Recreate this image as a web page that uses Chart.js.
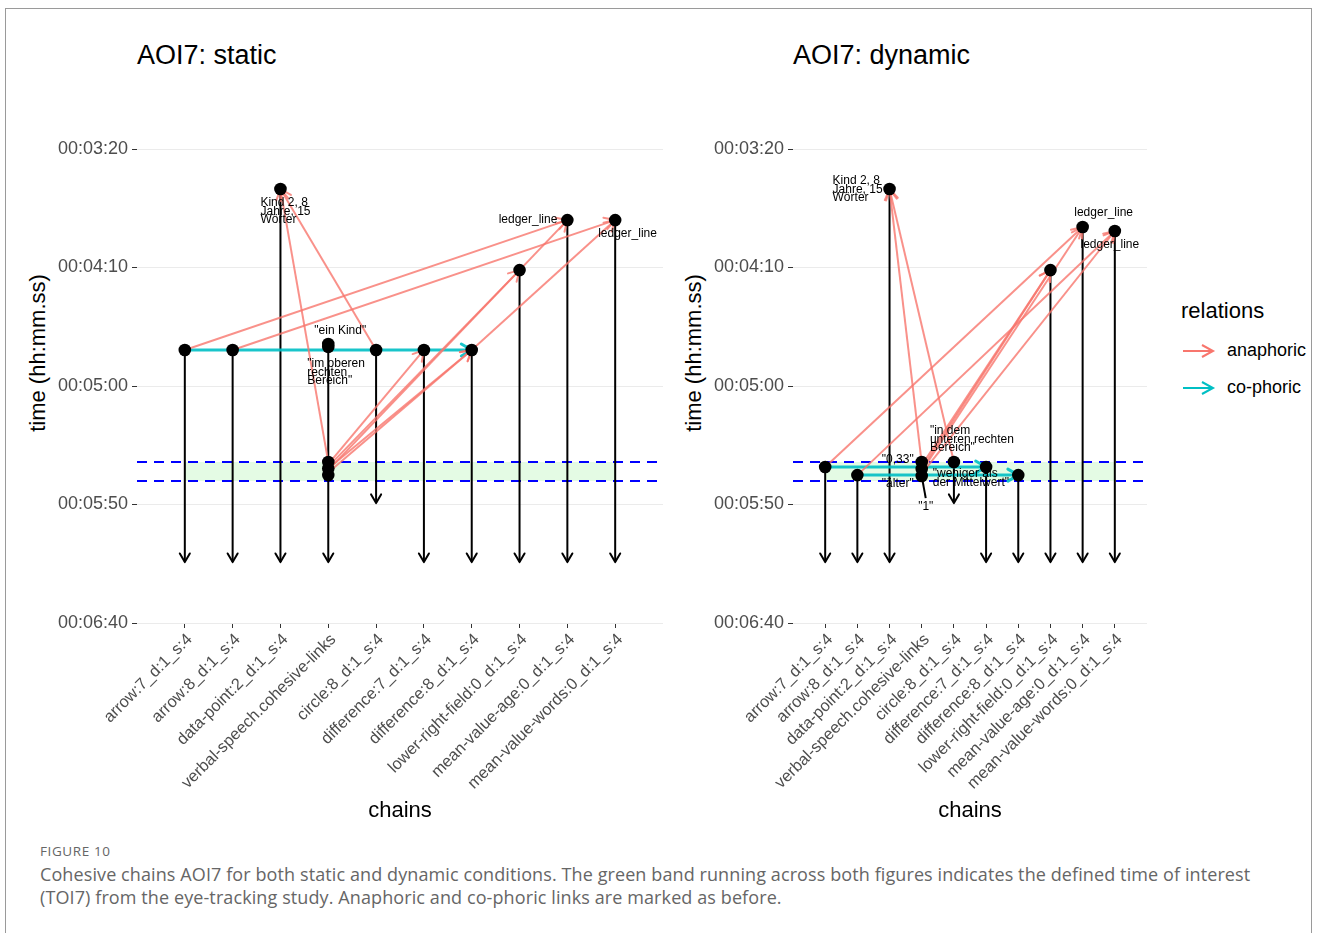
<!DOCTYPE html>
<html>
<head>
<meta charset="utf-8">
<script src="https://cdn.jsdelivr.net/npm/chart.js@4.4.1/dist/chart.umd.min.js"></script>
<style>
  body { margin: 0; background: #fff; font-family: "Liberation Sans", Arial, sans-serif; }
  #page { position: relative; width: 1319px; height: 933px; overflow: hidden; }
  #frame { position: absolute; left: 5px; top: 8px; width: 1305px; height: 950px; border: 1px solid #9a9a9a; }
  .abs { position: absolute; white-space: nowrap; }
  .ptitle { font-size: 27px; color: #000; line-height: 30px; }
  .ytitle { font-size: 22px; color: #000; transform: translate(-50%, -50%) rotate(-90deg); }
  .cap { font-family: "Open Sans", sans-serif; color: #666; }
</style>
</head>
<body>
<div id="page">
  <div id="frame"></div>

  <div class="abs ptitle" style="left:137px; top:40px;">AOI7: static</div>
  <div class="abs ptitle" style="left:793px; top:40px;">AOI7: dynamic</div>
  <div class="abs ytitle" style="left:38px; top:353px;">time (hh:mm.ss)</div>
  <div class="abs ytitle" style="left:694px; top:353px;">time (hh:mm.ss)</div>

  <canvas id="staticChart" class="abs" style="left:0; top:0;"></canvas>
  <canvas id="dynamicChart" class="abs" style="left:660px; top:0;"></canvas>

  <!-- legend -->
  <div class="abs" style="left:1181px; top:298px; font-size:22px;">relations</div>
  <svg class="abs" style="left:1181px; top:342px;" width="36" height="18">
    <line x1="2" y1="9" x2="32" y2="9" stroke="#F8766D" stroke-width="2"/>
    <polyline points="21,3 32,9 21,15" fill="none" stroke="#F8766D" stroke-width="2"/>
  </svg>
  <div class="abs" style="left:1227px; top:340px; font-size:18px;">anaphoric</div>
  <svg class="abs" style="left:1181px; top:379px;" width="36" height="18">
    <line x1="2" y1="9" x2="32" y2="9" stroke="#00BFC4" stroke-width="2"/>
    <polyline points="21,3 32,9 21,15" fill="none" stroke="#00BFC4" stroke-width="2"/>
  </svg>
  <div class="abs" style="left:1227px; top:377px; font-size:18px;">co-phoric</div>

  <!-- caption -->
  <div class="abs cap" style="left:40px; top:842px; font-size:13.5px; letter-spacing:0.6px;">FIGURE 10</div>
  <div class="abs cap" style="left:40px; top:863px; font-size:18px; letter-spacing:0.1px; line-height:23px;">
    Cohesive chains AOI7 for both static and dynamic conditions. The green band running across both figures indicates the defined time of interest<br>
    (TOI7) from the eye-tracking study. Anaphoric and co-phoric links are marked as before.
  </div>
</div>

<script>
// chains on the x axis (positions 1..10)
const chains = [
  'arrow:7_d:1_s:4', 'arrow:8_d:1_s:4', 'data-point:2_d:1_s:4',
  'verbal-speech.cohesive-links', 'circle:8_d:1_s:4', 'difference:7_d:1_s:4',
  'difference:8_d:1_s:4', 'lower-right-field:0_d:1_s:4',
  'mean-value-age:0_d:1_s:4', 'mean-value-words:0_d:1_s:4'
];

// time axis, seconds
const yTickValues = [200, 250, 300, 350, 400];
const yTickLabels = ['00:03:20', '00:04:10', '00:05:00', '00:05:50', '00:06:40'];

// time of interest TOI7 (green band between the blue dashed lines)
const toiBand = [332.1, 340.1];

// static: first mention (point) and end of each chain (arrow tip)
const staticStart = [284.8, 284.8, 216.9, 283.5, 284.8, 284.8, 284.8, 251.1, 230.0, 230.0];
const staticEnd   = [374.3, 374.3, 374.3, 374.3, 349.4, 374.3, 374.3, 374.3, 374.3, 374.3];
// further mentions inside a chain
const staticExtraChain = [4, 4, 4, 4];
const staticExtraTime  = [282.3, 332.1, 334.8, 337.6];
// [from chain, from time, to chain, to time, relation]
const staticRelations = [
  [1, 284.8, 9, 230.0, 'anaphoric'],
  [2, 284.8, 10, 230.0, 'anaphoric'],
  [4, 332.1, 3, 216.9, 'anaphoric'],
  [5, 284.8, 3, 216.9, 'anaphoric'],
  [4, 333.0, 6, 284.8, 'anaphoric'],
  [4, 334.8, 7, 284.8, 'anaphoric'],
  [4, 336.5, 7, 284.8, 'anaphoric'],
  [4, 334.0, 8, 251.1, 'anaphoric'],
  [4, 335.5, 9, 230.0, 'anaphoric'],
  [7, 284.8, 10, 230.0, 'anaphoric'],
  [1, 284.8, 7, 284.8, 'co-phoric']
];
const staticLabels = [
  { chain: 3, time: 216.9, text: ['Kind 2, 8', 'Jahre, 15', 'Wörter'] },
  { chain: 9, time: 230.0, text: ['ledger_line'] },
  { chain: 10, time: 230.0, text: ['ledger_line'] },
  { chain: 4, time: 283.5, text: ['"ein Kind"'] },
  { chain: 4, time: 283.5, text: ['"im oberen', 'rechten', 'Bereich"'] }
];

// dynamic
const dynamicStart = [334.2, 337.6, 216.9, 332.1, 332.1, 334.2, 337.6, 251.1, 232.9, 234.6];
const dynamicEnd   = [374.3, 374.3, 374.3, null, 349.4, 374.3, 374.3, 374.3, 374.3, 374.3];
const dynamicExtraChain = [4, 4];
const dynamicExtraTime  = [335.0, 338.0];
const dynamicRelations = [
  [1, 334.2, 9, 232.9, 'anaphoric'],
  [2, 337.6, 10, 234.6, 'anaphoric'],
  [4, 332.5, 3, 216.9, 'anaphoric'],
  [5, 332.1, 3, 216.9, 'anaphoric'],
  [4, 333.5, 8, 251.1, 'anaphoric'],
  [4, 335.0, 8, 251.1, 'anaphoric'],
  [4, 336.0, 9, 232.9, 'anaphoric'],
  [4, 337.0, 10, 234.6, 'anaphoric'],
  [1, 334.2, 6, 334.2, 'co-phoric'],
  [2, 337.6, 7, 337.6, 'co-phoric']
];
const dynamicLabels = [
  { chain: 3, time: 216.9, text: ['Kind 2, 8', 'Jahre, 15', 'Wörter'] },
  { chain: 9, time: 232.9, text: ['ledger_line'] },
  { chain: 10, time: 234.6, text: ['ledger_line'] },
  { chain: 5, time: 332.1, text: ['"in dem', 'unteren rechten', 'Bereich"'] },
  { chain: 4, time: 332.1, text: ['"0,33"'] },
  { chain: 4, time: 338.0, text: ['"älter"'] },
  { chain: 4, time: 338.0, text: ['"1"'], leader: true },
  { chain: 4, time: 335.0, text: ['"weniger als', 'der Mittelwert"'] }
];

// pixel placement of the text labels relative to their anchor: [dx, dy, align]
const staticLabelOffsets = [[-20, 14, 'left'], [-10, 0, 'right'], [-17, 14, 'left'], [12, -16, 'center'], [-21, 17, 'left']];
const dynamicLabelOffsets = [[-57, -8, 'left'], [21, -14, 'center'], [-5, 14, 'center'], [-24, -31, 'left'],
                             [-8, -2, 'right'], [-8, 8, 'right'], [4, 31, 'center'], [11, 5, 'left']];

const relColors = { 'anaphoric': 'rgba(248,118,109,0.8)', 'co-phoric': 'rgba(0,191,196,0.9)' };
const FONT = '"Liberation Sans", Arial, sans-serif';

const arrowHeads = {
  id: 'arrowHeads',
  afterDatasetDraw(chart, args) {
    const ds = chart.data.datasets[args.index];
    if (!ds.arrowHead) return;
    const pts = args.meta.data;
    const a = pts[0], b = pts[pts.length - 1];
    const ang = Math.atan2(b.y - a.y, b.x - a.x);
    const L = ds.arrowHead, spread = Math.PI / 6;
    const ctx = chart.ctx;
    ctx.save();
    ctx.strokeStyle = ds.borderColor;
    ctx.lineWidth = ds.borderWidth;
    ctx.lineCap = 'round';
    ctx.lineJoin = 'round';
    ctx.beginPath();
    ctx.moveTo(b.x - L * Math.cos(ang - spread), b.y - L * Math.sin(ang - spread));
    ctx.lineTo(b.x, b.y);
    ctx.lineTo(b.x - L * Math.cos(ang + spread), b.y - L * Math.sin(ang + spread));
    ctx.stroke();
    ctx.restore();
  }
};

const textLabels = {
  id: 'textLabels',
  afterDatasetsDraw(chart, args, opts) {
    const ctx = chart.ctx, xs = chart.scales.x, ys = chart.scales.y;
    ctx.save();
    ctx.font = '12px ' + FONT;
    ctx.fillStyle = '#000';
    ctx.textBaseline = 'middle';
    opts.labels.forEach((lab, i) => {
      const [dx, dy, align] = opts.offsets[i];
      const ax = xs.getPixelForValue(lab.chain), ay = ys.getPixelForValue(lab.time);
      const px = ax + dx, py = ay + dy;
      if (lab.leader) {
        ctx.strokeStyle = '#000';
        ctx.lineWidth = 2;
        ctx.beginPath();
        ctx.moveTo(ax, ay);
        ctx.lineTo(px, py - 9);
        ctx.stroke();
      }
      ctx.textAlign = align;
      lab.text.forEach((line, j) => ctx.fillText(line, px, py + j * 8.5));
    });
    ctx.restore();
  }
};

function buildPanel(id, width, height, yAxisWidth, padRight, start, end, extraChain, extraTime, relations, labels, offsets) {
  const datasets = [];
  // TOI band
  datasets.push({
    data: [{ x: 1, y: toiBand[1] }, { x: 10, y: toiBand[1] }],
    borderWidth: 0, pointRadius: 0, fill: { value: toiBand[0] },
    backgroundColor: 'rgba(144,238,144,0.24)', order: 60
  });
  toiBand.forEach(t => datasets.push({
    data: [{ x: 0, y: t }, { x: 11, y: t }],
    borderColor: '#0000ff', borderWidth: 2, borderDash: [10, 7], pointRadius: 0, fill: false, order: 50
  }));
  // chains
  chains.forEach((c, i) => {
    if (end[i] == null) return;
    datasets.push({
      data: [{ x: i + 1, y: start[i] }, { x: i + 1, y: end[i] }],
      borderColor: '#000', borderWidth: 2, pointRadius: 0, fill: false, arrowHead: 10, order: 40
    });
  });
  // relations
  relations.forEach(r => datasets.push({
    data: [{ x: r[0], y: r[1] }, { x: r[2], y: r[3] }],
    borderColor: relColors[r[4]], borderWidth: r[4] === 'co-phoric' ? 3 : 2,
    pointRadius: 0, fill: false, arrowHead: 12, order: 30
  }));
  // mentions
  const pts = chains.map((c, i) => ({ x: i + 1, y: start[i] }))
    .concat(extraChain.map((c, k) => ({ x: c, y: extraTime[k] })));
  datasets.push({
    data: pts, showLine: false, pointRadius: 6.3, pointBackgroundColor: '#000',
    pointBorderWidth: 0, order: 0
  });

  const canvas = document.getElementById(id);
  canvas.width = width;
  canvas.height = height;
  canvas.style.width = width + 'px';
  canvas.style.height = height + 'px';

  return new Chart(canvas, {
    type: 'line',
    data: { datasets },
    plugins: [arrowHeads, textLabels],
    options: {
      responsive: false,
      animation: false,
      events: [],
      layout: { padding: { top: 149, right: padRight, bottom: 0, left: 0 } },
      plugins: {
        legend: { display: false },
        tooltip: { enabled: false },
        textLabels: { labels, offsets }
      },
      scales: {
        x: {
          type: 'linear', min: 0, max: 11,
          afterBuildTicks: s => { s.ticks = chains.map((c, i) => ({ value: i + 1 })); },
          afterFit: s => { s.height = height - 623; },
          ticks: {
            autoSkip: false, minRotation: 45, maxRotation: 45, padding: 2, labelOffset: 5,
            color: '#4d4d4d', font: { family: FONT, size: 16.4 },
            callback: v => chains[v - 1]
          },
          grid: { drawOnChartArea: false, drawTicks: true, tickLength: 5, tickColor: '#333', tickWidth: 1 },
          border: { display: false },
          title: {
            display: true, text: 'chains', color: '#000',
            font: { family: FONT, size: 22 }, padding: { top: 0, bottom: 16 }
          }
        },
        y: {
          type: 'linear', min: 200, max: 400, reverse: true,
          afterBuildTicks: s => { s.ticks = yTickValues.map(v => ({ value: v })); },
          afterFit: s => { s.width = yAxisWidth; },
          ticks: {
            padding: 4, color: '#4d4d4d', font: { family: FONT, size: 18 },
            callback: v => yTickLabels[yTickValues.indexOf(v)]
          },
          grid: { color: '#ebebeb', lineWidth: 1, drawTicks: true, tickLength: 5, tickColor: '#333' },
          border: { display: false }
        }
      }
    }
  });
}

buildPanel('staticChart', 690, 840, 137, 27, staticStart, staticEnd, staticExtraChain, staticExtraTime,
  staticRelations, staticLabels, staticLabelOffsets);
buildPanel('dynamicChart', 500, 840, 133, 13, dynamicStart, dynamicEnd, dynamicExtraChain, dynamicExtraTime,
  dynamicRelations, dynamicLabels, dynamicLabelOffsets);
</script>
</body>
</html>
